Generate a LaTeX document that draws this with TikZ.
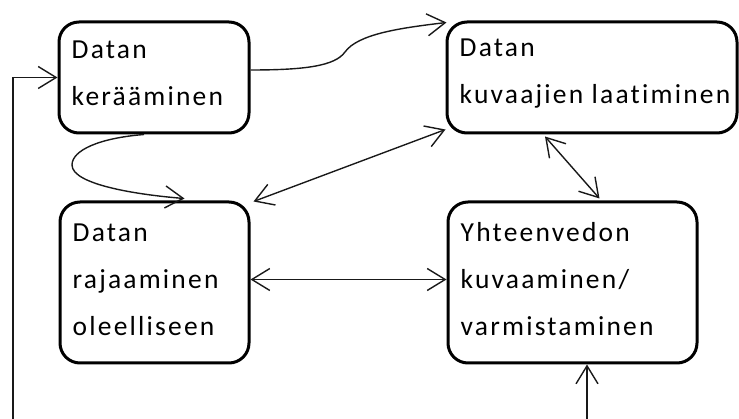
\documentclass[tikz,border=0pt]{standalone}
\usepackage{fontspec}
\setmainfont{Carlito}[LetterSpace=8, Ligatures={NoCommon,NoRequired,NoContextual}]
\usetikzlibrary{arrows.meta}
\begin{document}
\begin{tikzpicture}[x=1pt,y=-1pt,
  stage/.style={draw=black, line width=3pt, rounded corners=20pt, fill=white,
    inner sep=0pt, anchor=center},
  caption/.style={align=left, inner sep=0pt, anchor=west,
    font=\fontsize{27.5}{47}\selectfont, text=black},
  flow/.style={line width=1.4pt, draw=black!90},
  barb/.tip={Straight Barb[length=18pt, width=22pt, line width=1.4pt]}]
\useasboundingbox (0,0) rectangle (739,419);
\clip (0,0) rectangle (739,419);

% process stages
\node[stage, minimum width=190pt, minimum height=111pt] (b1) at (154,77.5) {};
\node[stage, minimum width=290pt, minimum height=111pt] (b2) at (592,77.5) {};
\node[stage, minimum width=189pt, minimum height=161pt] (b3) at (154.5,282.5) {};
\node[stage, minimum width=249pt, minimum height=161pt] (b4) at (572.5,282.5) {};

% stage texts
\node[caption] (t1) at ([shift={(14pt,4pt)}]b1.west) {Datan\\ kerääminen};
\node[caption] (t2) at ([shift={(14pt,4pt)}]b2.west) {Datan\\ kuvaajien laatiminen};
\node[caption] (t3) at ([shift={(14pt,3pt)}]b3.west) {Datan\\ rajaaminen\\ oleelliseen};
\node[caption] (t4) at ([shift={(14pt,3pt)}]b4.west) {Yhteenvedon\\ kuvaaminen/\\ varmistaminen};

% connections between stages
\draw[flow, -{barb}] ([yshift=7.5pt]b1.east) .. controls (305,70) and (335,66) .. (345,52)
  .. controls (358,34) and (400,28) .. ([shift={(1pt,-2pt)}]b2.north west);
\draw[flow, -{barb}] ([xshift=-10pt]b1.south) .. controls (100,138) and (72,150) .. (72,165)
  .. controls (72,185) and (140,195) .. ([xshift=30pt,yshift=2pt]b3.north);
\draw[flow, {barb}-{barb}] ([xshift=3pt,yshift=-1pt]b3.north east) -- ([yshift=5pt]b2.south west);
\draw[flow, {barb}-{barb}] ([yshift=3pt]b3.east) -- ([yshift=3pt]b4.west);
\draw[flow, {barb}-{barb}] ([xshift=-47pt,yshift=-2pt]b2.south) -- ([xshift=27pt,yshift=2pt]b4.north);

% feedback loop back to the first stage
\draw[flow, {barb}-{barb}] ([xshift=14.5pt]b4.south) |- (13,450) |- (b1.west);
\end{tikzpicture}
\end{document}
